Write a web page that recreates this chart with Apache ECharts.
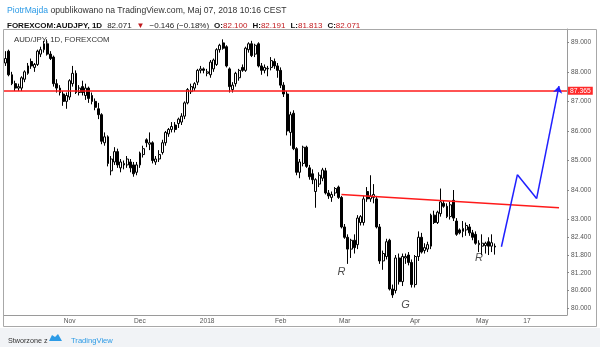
<!DOCTYPE html>
<html><head><meta charset="utf-8">
<script src="https://cdn.jsdelivr.net/npm/echarts@6/dist/echarts.min.js"></script>
<style>html,body{margin:0;padding:0;background:#fff}#c{width:600px;height:347px}</style>
</head><body><div id="c"></div>
<script>
// ---- DATA ----
const firstBarDate = '2017-10-04';
const lastBarDate = '2018-05-07';
const futureDays = 22;
const opens = [88.30,88.70,87.90,87.60,87.45,87.45,87.75,87.95,88.35,88.15,88.25,88.60,88.75,88.95,88.60,88.50,87.60,87.45,87.25,87.00,
87.15,87.60,87.95,87.30,87.50,87.20,87.45,87.20,87.00,86.75,86.55,85.60,85.80,84.65,84.95,85.30,84.75,84.85,84.85,84.95,
84.85,84.60,84.85,85.20,85.70,85.55,85.60,84.95,85.05,85.27,85.60,85.90,86.05,86.20,86.25,86.30,86.50,86.95,87.33,87.45,
87.65,88.05,88.10,87.95,87.90,88.10,88.25,88.75,88.98,88.85,88.10,87.40,87.60,87.80,88.15,88.05,88.75,88.95,88.60,88.95,
88.20,88.05,88.10,88.15,88.35,88.20,88.05,87.55,87.25,85.95,86.60,85.40,84.60,84.90,85.45,84.75,84.55,83.95,84.20,84.40,
84.65,83.90,83.75,83.90,84.10,83.75,82.75,82.40,82.00,82.30,82.15,82.90,82.90,83.95,83.70,83.75,83.70,82.75,81.60,81.75,
82.30,80.65,80.60,81.70,80.90,81.70,81.80,81.55,80.80,81.75,82.40,81.95,82.00,82.10,83.15,82.90,83.20,83.55,83.45,83.10,
83.65,82.95,82.65,82.60,82.65,82.75,82.55,82.50,82.15,82.10,82.12,82.25,82.10,82.100];
const highs = [88.70,88.75,88.00,87.70,87.60,87.85,88.05,88.30,88.45,88.30,88.75,88.85,89.05,89.10,88.70,88.55,87.75,87.55,87.35,87.30,
87.75,88.20,88.05,87.55,87.70,87.60,87.50,87.30,87.10,86.95,86.60,85.95,85.85,85.15,85.45,85.40,85.05,85.00,85.15,85.05,
84.95,84.95,85.30,85.50,85.75,85.95,85.65,85.15,85.35,85.70,86.00,86.10,86.30,86.30,86.45,86.60,87.00,87.45,87.60,87.65,
88.10,88.20,88.15,88.10,88.40,88.45,88.80,88.95,89.10,88.90,88.15,87.65,88.00,88.10,88.25,88.85,89.00,89.05,88.95,89.00,
88.30,88.25,88.20,88.50,88.45,88.30,88.15,87.65,87.35,86.65,86.70,85.45,85.05,85.50,85.50,84.85,84.70,84.40,84.60,84.75,
84.75,84.00,83.95,84.10,84.15,83.80,82.85,82.50,82.35,82.50,83.15,83.15,83.80,84.10,84.50,84.20,83.80,82.85,81.95,82.35,
82.35,80.80,81.80,81.85,81.85,81.85,81.90,81.65,81.80,82.60,82.55,82.20,82.25,83.20,83.30,83.30,84.05,83.65,83.55,83.60,
84.00,83.05,82.70,82.95,82.90,82.85,82.65,82.60,82.30,82.50,82.25,82.40,82.50,82.191];
const lows = [88.20,87.85,87.55,87.35,87.35,87.35,87.65,87.90,88.10,88.00,88.20,88.50,88.65,88.55,88.40,87.50,87.30,87.20,86.85,86.75,
87.05,87.50,87.25,87.20,87.20,87.05,86.95,86.90,86.70,86.40,85.55,85.50,84.80,84.50,84.85,84.75,84.60,84.70,84.75,84.60,
84.45,84.50,84.75,85.10,85.45,85.35,84.90,84.85,84.95,85.20,85.50,85.80,85.95,85.95,86.10,86.20,86.40,86.90,87.25,87.35,
87.55,87.95,87.95,87.85,87.80,88.00,88.20,88.65,88.75,88.15,87.30,87.30,87.50,87.70,88.00,88.00,88.65,88.50,88.50,88.15,
87.90,87.95,87.85,88.05,88.10,87.80,87.45,87.15,85.85,85.50,85.35,84.50,84.40,84.80,84.75,84.35,84.20,83.40,84.10,84.30,
83.85,83.70,83.60,83.80,83.70,82.70,82.35,81.50,81.70,81.85,82.00,82.80,82.80,83.60,83.60,83.55,82.70,81.50,81.30,81.65,
80.60,80.35,80.50,80.80,80.75,81.50,81.45,80.70,80.70,81.60,81.85,81.85,81.90,82.00,82.85,82.85,83.10,83.40,83.05,83.00,
82.95,82.45,82.50,82.40,82.45,82.45,82.30,82.15,81.90,81.80,81.85,81.80,81.90,81.813];
const closes = [88.45,87.90,87.60,87.45,87.50,87.80,88.00,88.20,88.20,88.25,88.70,88.75,88.95,88.60,88.45,87.60,87.45,87.30,87.00,87.20,
87.70,87.95,87.30,87.45,87.30,87.45,87.10,87.00,86.80,86.55,85.65,85.80,84.90,85.05,85.30,84.85,84.95,84.90,85.05,84.75,
84.55,84.85,85.25,85.40,85.60,85.60,85.00,85.05,85.20,85.60,85.95,86.05,86.15,86.05,86.40,86.50,86.95,87.40,87.50,87.60,
88.05,88.10,88.05,88.00,88.33,88.40,88.75,88.90,88.80,88.20,87.50,87.55,87.95,88.05,88.05,88.80,88.95,88.55,88.90,88.20,
88.05,88.15,88.12,88.38,88.20,88.05,87.55,87.25,86.00,86.55,85.40,84.60,84.95,85.45,84.80,84.45,84.35,84.35,84.50,84.68,
83.90,83.80,83.85,84.05,83.75,82.75,82.40,82.00,82.30,82.05,83.05,83.10,83.70,83.70,83.80,83.85,82.75,81.60,81.85,82.25,
80.65,80.45,81.70,80.90,81.75,81.75,81.55,80.80,81.75,82.40,81.90,82.05,82.15,83.15,82.90,83.25,83.60,83.45,83.10,83.50,
83.05,82.50,82.55,82.70,82.80,82.55,82.40,82.20,82.20,82.20,82.20,82.10,82.217,82.071];

const tickLabels = [['2017-11-01','Nov'],['2017-12-01','Dec'],['2018-01-01','2018'],['2018-02-01','Feb'],
  ['2018-03-01','Mar'],['2018-04-02','Apr'],['2018-05-01','May'],['2018-05-17','17']];
const priceTicks = [89,88,87,86,85,84,83,82.4,81.8,81.2,80.6,80.0];
const resistanceLevel = 87.365;
const lastPrice = 82.071;
const trendLine = [['2018-02-28',83.85],['2018-05-27',83.40]];
const projection = [['2018-05-09',82.08],['2018-05-14',84.52],['2018-05-20',83.71],['2018-05-27',87.52]];
const letters = [['2018-02-28',81.22,'R'],['2018-03-28',80.11,'G'],['2018-04-30',81.70,'R']];

// ---- categories ----
function fmt(d){return d.toISOString().slice(0,10);}
const categories = [];
(function(){
  let d = new Date(firstBarDate+'T00:00:00Z');
  const end = new Date(lastBarDate+'T00:00:00Z');
  while (d <= end) { const wd = d.getUTCDay(); if (wd!==0 && wd!==6) categories.push(fmt(d)); d = new Date(d.getTime()+86400000); }
  for (let i=0;i<futureDays;i++){ categories.push(fmt(d)); d = new Date(d.getTime()+86400000); }
})();
const idx = s => categories.indexOf(s);
const labelMap = {}; tickLabels.forEach(t=>labelMap[t[0]]=t[1]);
const ohlc = opens.map((o,i)=>[o, closes[i], lows[i], highs[i]]);

const chart = echarts.init(document.getElementById('c'), null, {renderer:'canvas'});
const FONT = 'Liberation Sans, Arial, sans-serif';
chart.setOption({
  animation:false,
  backgroundColor:'#ffffff',
  title:[
    {left:2, top:1, text:'{a|PiotrMajda}{b| opublikowano na TradingView.com, Maj 07, 2018 10:16 CEST}',
     textStyle:{fontFamily:FONT, fontWeight:'normal', rich:{a:{color:'#2d9be6',fontSize:8.6,fontWeight:'normal',fontFamily:FONT},b:{color:'#333',fontSize:8.6,fontWeight:'normal',fontFamily:FONT}}}},
    {left:2, top:12, text:'{k|FOREXCOM:AUDJPY, 1D} {n|82.071} {r|▼} {n|−0.146 (−0.18%)} {k|O:}{r|82.100} {k|H:}{r|82.191} {k|L:}{r|81.813} {k|C:}{r|82.071}',
     textStyle:{fontFamily:FONT, fontWeight:'normal', rich:{k:{color:'#111',fontSize:8,fontWeight:'bold',fontFamily:FONT},n:{color:'#222',fontSize:8,fontWeight:'normal',fontFamily:FONT},r:{color:'#c0181c',fontSize:8,fontWeight:'normal',fontFamily:FONT}}}},
    {left:9, top:31, text:'AUD/JPY, 1D, FOREXCOM', textStyle:{color:'#333',fontSize:7.8,fontWeight:'normal',fontFamily:FONT}},
    {left:3, top:333, text:'Stworzone z', textStyle:{color:'#333',fontSize:7.2,fontWeight:'normal',fontFamily:FONT}},
    {left:66, top:332, text:'TradingView', textStyle:{color:'#2d9be6',fontSize:7.6,fontWeight:'normal',fontFamily:FONT}}
  ],
  graphic:[
    {type:'rect', z:-10, shape:{x:0,y:328,width:600,height:19}, style:{fill:'#f1f3f6'}},
    {type:'rect', z:100, shape:{x:3.5,y:29.5,width:593,height:297}, style:{fill:null, stroke:'#a8a8a8', lineWidth:1}},
    {type:'polygon', z:100, shape:{points:[[49,341],[52,335],[55,337],[58,334],[62,341]]}, style:{fill:'#2d9be6'}}
  ],
  grid:{left:4, right:33, top:29, bottom:32},
  xAxis:{type:'category', data:categories, boundaryGap:true,
    axisLine:{lineStyle:{color:'#9a9a9a'}},
    axisTick:{alignWithLabel:true, length:2, interval:(i,v)=>labelMap[v]!==undefined, lineStyle:{color:'#888'}},
    axisLabel:{interval:(i,v)=>labelMap[v]!==undefined, formatter:v=>labelMap[v]||'', color:'#555', fontSize:6.6, fontFamily:FONT, margin:3},
    splitLine:{show:false}},
  yAxis:{type:'value', position:'right', min:79.77, max:89.45, scale:true,
    axisLine:{show:true, lineStyle:{color:'#9a9a9a'}},
    axisTick:{show:true, length:2, customValues:priceTicks, lineStyle:{color:'#888'}},
    axisLabel:{customValues:priceTicks, formatter:v=>v.toFixed(3), color:'#555', fontSize:6.6, fontFamily:FONT, margin:4},
    splitLine:{show:false}},
  series:[
    {type:'candlestick', data:ohlc, barWidth:2.4,
     itemStyle:{color:'#ffffff', color0:'#000000', borderColor:'#000', borderColor0:'#000', borderWidth:1},
     markLine:{silent:true, symbol:'none', animation:false,
       data:[
        {yAxis:resistanceLevel, lineStyle:{color:'#ff1a1a', width:1.5, type:'solid'},
         label:{show:true, position:'end', distance:1, formatter:()=>resistanceLevel.toFixed(3), color:'#fff', backgroundColor:'#ff2a2a', padding:[1,2,0,2], fontSize:6.8, fontFamily:FONT}},
        {yAxis:lastPrice, lineStyle:{opacity:0},
         label:{show:true, position:'end', distance:1, formatter:()=>lastPrice.toFixed(3), color:'#fff', backgroundColor:'#111', padding:[1,2,0,2], fontSize:6.8, fontFamily:FONT}}
       ]}},
    {type:'line', data:trendLine.map(p=>[idx(p[0]),p[1]]), symbol:'none', lineStyle:{color:'#ff1a1a', width:1.4}, z:5},
    {type:'lines', coordinateSystem:'cartesian2d', z:6, symbol:['none','none'],
     data:[{coords:[[idx(projection[0][0]),projection[0][1]],[idx(projection[1][0]),projection[1][1]]]},
           {coords:[[idx(projection[1][0]),projection[1][1]],[idx(projection[2][0]),projection[2][1]]]}],
     lineStyle:{color:'#1f1fff', width:1.5, opacity:1, curveness:0}},
    {type:'lines', coordinateSystem:'cartesian2d', z:6, symbol:['none','arrow'], symbolSize:7,
     data:[{coords:[[idx(projection[2][0]),projection[2][1]],[idx(projection[3][0]),projection[3][1]]]}],
     lineStyle:{color:'#1f1fff', width:1.5, opacity:1, curveness:0}},
    {type:'scatter', symbolSize:0, z:7, data:letters.map(l=>[idx(l[0]),l[1],l[2]]),
     label:{show:true, position:'inside', formatter:p=>p.value[2], color:'#222', fontSize:11, fontStyle:'italic', fontFamily:FONT}}
  ]
});
</script></body></html>
